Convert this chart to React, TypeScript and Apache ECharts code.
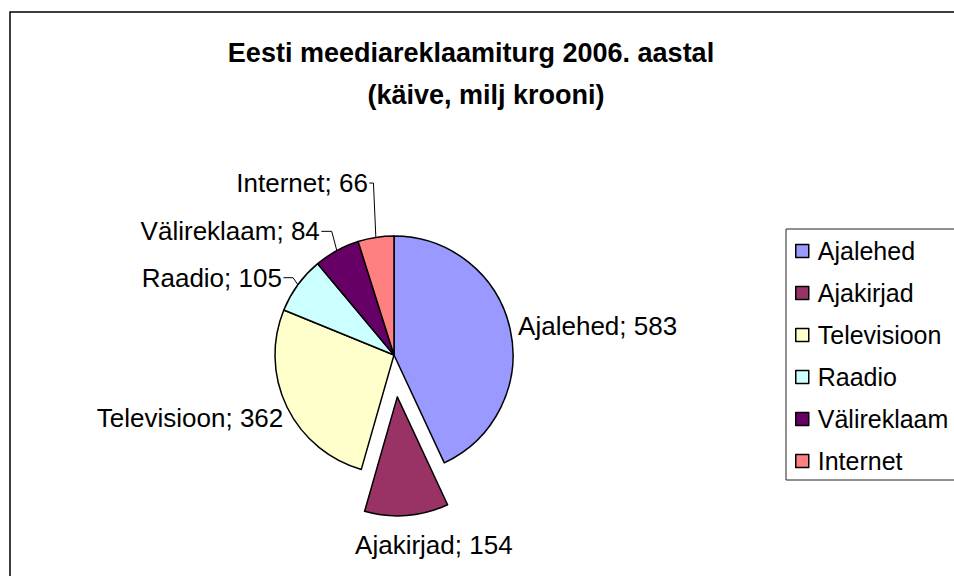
import React, { useEffect, useRef } from "react";
import * as echarts from "echarts";

const categories = ["Ajalehed", "Ajakirjad", "Televisioon", "Raadio", "Välireklaam", "Internet"];
const values = [583, 154, 362, 105, 84, 66];
const colors = ["#9999FF", "#993366", "#FFFFCC", "#CCFFFF", "#660066", "#FF8080"];
const titleLine1 = "Eesti meediareklaamiturg 2006. aastal";
const titleLine2 = "(käive, milj krooni)";

// leader-line lengths per slice [length, length2, shown]
const lineLen: [number, number, boolean][] = [
  [3, 0, false],
  [30, 0, false],
  [3, 0, false],
  [12, 1, true],
  [22, 2, true],
  [55, 3, true],
];
// small label nudges for labels without leader lines
const labelNudge: [number, number][] = [
  [0, -3],
  [-59, 0],
  [4, 10],
  [0, 0],
  [0, 0],
  [0, 0],
];
// horizontal gap between slice edge and label end for labels with leader lines
const leaderGap = [0, 0, 0, 16, 17, 8];

const FONT = 'Arial, "Liberation Sans", sans-serif';

export default function App() {
  const ref = useRef<HTMLDivElement>(null);
  useEffect(() => {
    if (!ref.current) return;
    const chart = echarts.init(ref.current, undefined, { renderer: "svg" });
    const data = categories.map((name, i) => ({
      name,
      value: values[i],
      selected: i === 1,
      itemStyle: { color: colors[i] },
      labelLine: { show: lineLen[i][2], length: lineLen[i][0], length2: lineLen[i][1] },
    }));
    const titleStyle = {
      fontFamily: FONT,
      fontWeight: "bold",
      fontSize: 27,
      lineHeight: 40,
      color: "#000",
    };
    chart.setOption({
      animation: false,
      backgroundColor: "#fff",
      title: [
        { text: titleLine1, left: 466, top: 28, textAlign: "center", textStyle: titleStyle },
        { text: titleLine2, left: 481, top: 70, textAlign: "center", textStyle: titleStyle },
      ],
      legend: {
        orient: "vertical",
        left: 786,
        top: 229,
        padding: [9, 10, 6, 9],
        itemWidth: 13,
        itemHeight: 13,
        itemGap: 16,
        icon: "rect",
        itemStyle: { borderColor: "#000", borderWidth: 1.5 },
        textStyle: {
          fontFamily: FONT,
          fontSize: 25,
          lineHeight: 26,
          color: "#000",
          padding: [0, 0, 0, 4],
        },
        data: categories,
      },
      graphic: [
        {
          type: "rect",
          shape: { x: 10, y: 12, width: 1000, height: 700 },
          style: { fill: "none", stroke: "#000", lineWidth: 1.5 },
          silent: true,
        },
        {
          type: "rect",
          shape: { x: 786, y: 229, width: 300, height: 251 },
          style: { fill: "none", stroke: "#222", lineWidth: 1 },
          silent: true,
          z: -1,
        },
      ],
      series: [
        {
          type: "pie",
          center: [394, 355],
          radius: 119,
          startAngle: 90,
          clockwise: true,
          selectedMode: "single",
          selectedOffset: 42,
          avoidLabelOverlap: false,
          itemStyle: { borderColor: "#000", borderWidth: 1.5 },
          emphasis: { disabled: true },
          select: { itemStyle: { borderColor: "#000", borderWidth: 1.5 } },
          label: {
            show: true,
            position: "outside",
            formatter: "{b}; {c}",
            fontFamily: FONT,
            fontSize: 26,
            color: "#000",
            distanceToLabelLine: 5,
          },
          labelLine: { lineStyle: { color: "#000", width: 1 } },
          labelLayout: (params: any) => {
            const i = params.dataIndex;
            const gap = leaderGap[i];
            const pts = params.labelLinePoints;
            if (gap > 0 && pts && pts.length >= 3) {
              const p0 = pts[0];
              const y = pts[pts.length - 1][1];
              const r = params.labelRect;
              const targetEnd = p0[0] - gap;
              const dx = targetEnd - (r.x + r.width);
              return {
                dx,
                labelLinePoints: [
                  [p0[0], p0[1]],
                  [p0[0] - gap * 0.3, y],
                  [targetEnd + 1.5, y],
                ],
              };
            }
            const n = labelNudge[i];
            if (!n || (n[0] === 0 && n[1] === 0)) return {};
            return { dx: n[0], dy: n[1] };
          },
          data,
        },
      ],
    });
    return () => chart.dispose();
  }, []);
  return (
    <div
      ref={ref}
      style={{ position: "fixed", left: 0, top: 0, width: 954, height: 576, background: "#fff" }}
    />
  );
}
